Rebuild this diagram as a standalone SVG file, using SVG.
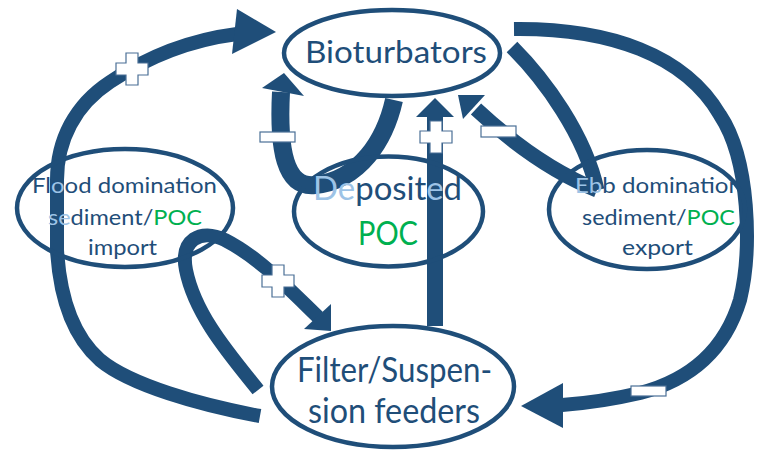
<svg xmlns="http://www.w3.org/2000/svg" xmlns:xlink="http://www.w3.org/1999/xlink" width="758" height="459" viewBox="0 0 758 459">
<style>
.node{fill:none;stroke:#1F4E79;stroke-width:4.5}
.t{font-family:Lato,"Open Sans","Liberation Sans",sans-serif;fill:#1F4E79}
.lb{fill:#9DC3E6}
.gr{fill:#00B050}
.link{fill:none;stroke:#1F4E79;stroke-linecap:butt;stroke-linejoin:round}
.head{fill:#1F4E79}
.sign{fill:#fff;stroke:#4A6F96;stroke-width:1.2}
</style>
<defs>
<path id="plus" d="M-6,-16H6V-6H16V6H6V16H-6V6H-16V-6H-6Z"/>
</defs>
<rect width="758" height="459" fill="#fff"/>
<g id="connectors">
<!-- Filter -> Bioturbators via flood (+) -->
<path class="link" stroke-width="14" d="M260 416C200 405 130 385 100 360C75 338 60 300 57 250L57 180C57 140 75 105 110 82C150 55 190 40 237 34"/>
<polygon class="head" points="276,32 237,9 232,54"/>
<use xlink:href="#plus" class="sign" x="132" y="69"/>
<!-- Flood loop -> Filter (+) -->
<path class="link" stroke-width="14" d="M258 390C230 355 195 315 186 270C180 240 200 228 225 240C260 258 290 290 318 317"/>
<polygon class="head" points="331,331 304,329 331,304"/>
<use xlink:href="#plus" class="sign" x="278" y="281"/>
<!-- Deposited loop -> Bioturbators (-) -->
<path class="link" stroke-width="18" d="M394 100C385 140 360 180 315 185C285 188 278 150 281 92"/>
<polygon class="head" points="284,73 262,88 304,96"/>
<rect class="sign" x="260" y="132" width="35" height="10"/>
<!-- Filter -> Bioturbators (+) -->
<path class="link" stroke-width="16" d="M435 326V116"/>
<polygon class="head" points="435,98 416,117 454,117"/>
<use xlink:href="#plus" class="sign" x="436" y="137"/>
<!-- Bioturbators -> Ebb -> Bioturbators (-) -->
<path class="link" stroke-width="15" d="M512 47C545 80 585 135 597 190"/>
<path class="link" stroke-width="15" d="M597 190C560 175 520 150 476 109"/>
<polygon class="head" points="458,95 485,95 463,119"/>
<rect class="sign" x="481" y="126" width="35" height="11"/>
<!-- Bioturbators -> Filter (-) -->
<path class="link" stroke-width="14" d="M514 29C610 28 685 55 720 115C750 160 752 250 740 300C725 350 690 380 640 393C610 400 590 403 562 405"/>
<polygon class="head" points="521,406 563,383 563,428"/>
<rect class="sign" x="631" y="386" width="35" height="10"/>
</g>
<g id="bioturbators">
<ellipse class="node" cx="392" cy="53" rx="108" ry="43"/>
<text class="t" x="305" y="63" font-size="31" textLength="182" lengthAdjust="spacingAndGlyphs">Bioturbators</text>
</g>
<g id="deposited-poc">
<ellipse class="node" cx="388.5" cy="211.5" rx="94.5" ry="55"/>
<text class="t" x="313" y="200" font-size="32" textLength="149" lengthAdjust="spacingAndGlyphs"><tspan class="lb">De</tspan>posit<tspan class="lb">e</tspan>d</text>
<text class="t gr" x="358" y="245" font-size="32" textLength="60" lengthAdjust="spacingAndGlyphs">POC</text>
</g>
<g id="flood-domination">
<ellipse class="node" cx="125" cy="208" rx="108" ry="59"/>
<text class="t" x="32" y="193" font-size="22" textLength="185" lengthAdjust="spacingAndGlyphs">Fl<tspan class="lb">o</tspan>od domination</text>
<text class="t" x="48" y="225" font-size="22" textLength="154" lengthAdjust="spacingAndGlyphs"><tspan class="lb">se</tspan>diment/<tspan class="gr">POC</tspan></text>
<text class="t" x="88" y="255" font-size="22" textLength="69" lengthAdjust="spacingAndGlyphs">import</text>
</g>
<g id="ebb-domination">
<ellipse class="node" cx="647" cy="209.5" rx="98" ry="59.5"/>
<text class="t" x="575" y="193" font-size="22" textLength="167" lengthAdjust="spacingAndGlyphs"><tspan class="lb">Eb</tspan>b domination</text>
<text class="t" x="582" y="225" font-size="22" textLength="153" lengthAdjust="spacingAndGlyphs">sediment/<tspan class="gr">POC</tspan></text>
<text class="t" x="622" y="255" font-size="22" textLength="71" lengthAdjust="spacingAndGlyphs">export</text>
</g>
<g id="filter-suspension-feeders">
<ellipse class="node" cx="393" cy="386.5" rx="121" ry="60.5"/>
<text class="t" x="297" y="382" font-size="34" textLength="195" lengthAdjust="spacingAndGlyphs">Filter/Suspen-</text>
<text class="t" x="308" y="423" font-size="34" textLength="172" lengthAdjust="spacingAndGlyphs">sion feeders</text>
</g>
</svg>
